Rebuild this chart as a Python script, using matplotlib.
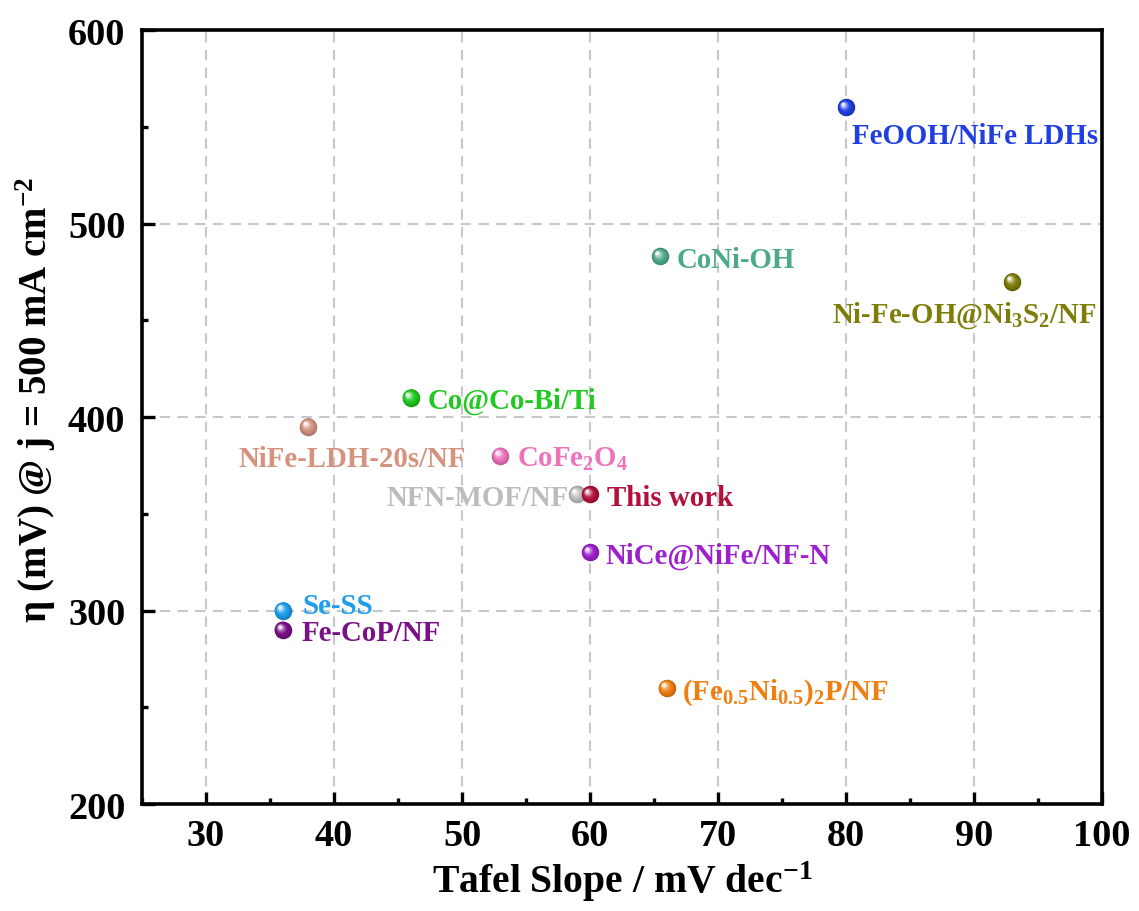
import matplotlib
matplotlib.use('Agg')
import matplotlib.pyplot as plt
import matplotlib.colors as mc
from matplotlib.transforms import offset_copy
import numpy as np

names = ['FeOOH/NiFe LDHs', 'CoNi-OH', 'Ni-Fe-OH@Ni$_3$S$_2$/NF', 'Co@Co-Bi/Ti',
         'NiFe-LDH-20s/NF', 'CoFe$_2$O$_4$', 'NFN-MOF/NF', 'This work',
         'NiCe@NiFe/NF-N', 'Se-SS', 'Fe-CoP/NF', '(Fe$_{0.5}$Ni$_{0.5}$)$_2$P/NF']
tafel = [80, 65.5, 93, 46, 38, 53, 59, 60, 60, 36, 36, 66]
eta = [560, 483, 470, 410, 395, 380, 360, 360, 330, 300, 290, 260]
colors = ['#1f3fe0', '#4caa88', '#7d7d08', '#22c922', '#d4937e', '#ef72bb',
          '#bcbcbc', '#b3103c', '#9c20cc', '#1e9fec', '#7a1086', '#f07f12']
# label anchor positions (data coords) and alignment
label_x = [80.5, 66.8, 89.2, 47.3, 41.4, 54.3, 58.3, 61.3, 61.2, 37.5, 37.5, 67.2]
label_y = [547, 483, 455, 410, 380, 380, 360, 360, 330, 304, 290, 260]
label_ha = ['left', 'left', 'center', 'left', 'center', 'left', 'right', 'left',
            'left', 'left', 'left', 'left']

plt.rcParams['font.family'] = ['Liberation Serif', 'DejaVu Serif']
plt.rcParams['font.weight'] = 'bold'
plt.rcParams['mathtext.fontset'] = 'custom'
plt.rcParams['mathtext.rm'] = 'Liberation Serif:bold'
plt.rcParams['mathtext.bf'] = 'Liberation Serif:bold'
plt.rcParams['mathtext.default'] = 'bf'

fig = plt.figure(figsize=(11.39, 9.12), dpi=100)
ax = fig.add_axes([0.1247, 0.1173, 0.8428, 0.8487])

ax.set_xlim(25, 100)
ax.set_ylim(200, 600)
ax.set_xticks(np.arange(30, 101, 10))
ax.set_xticks(np.arange(25, 101, 5), minor=True)
ax.set_yticks(np.arange(200, 601, 100))
ax.set_yticks(np.arange(200, 601, 50), minor=True)
ax.grid(True, which='major', color='#c8c8c8', linestyle=(0, (5, 3.5)), linewidth=1.5)
ax.set_axisbelow(True)

for s in ax.spines.values():
    s.set_linewidth(2.6)
ax.tick_params(which='major', direction='in', length=9, width=2.4, labelsize=27.5, pad=10)
ax.tick_params(axis='y', which='major', pad=12)
ax.tick_params(which='minor', direction='in', length=4.5, width=2.4)

# shaded "ball" markers
r = 6.3  # radius in points
nlayer = 16
for x, y, c in zip(tafel, eta, colors):
    base = np.array(mc.to_rgb(c))
    dark = base * 0.8
    ax.scatter([x], [y], s=(2 * r) ** 2, color=dark, zorder=3, linewidths=0)
    for k in range(1, nlayer + 1):
        t = k / nlayer
        size = (2 * r * (1 - 0.82 * t)) ** 2
        if t < 0.4:
            col = dark + (base - dark) * (t / 0.4)
        else:
            w = ((t - 0.4) / 0.6) ** 1.6
            col = base + (1 - base) * w * 0.9
        tr = offset_copy(ax.transData, fig=fig, x=-0.38 * r * t, y=0.38 * r * t, units='points')
        ax.scatter([x], [y], s=size, color=np.clip(col, 0, 1), zorder=3,
                   linewidths=0, transform=tr)

for n, lx, ly, ha, c in zip(names, label_x, label_y, label_ha, colors):
    ax.text(lx, ly, n, color=c, fontsize=20.8, fontweight='bold', ha=ha,
            va='center_baseline', zorder=4)

ax.set_xlabel('Tafel Slope / mV dec$^{-1}$', fontsize=28.5, fontweight='bold', labelpad=4)
ax.set_ylabel('η (mV) @ j = 500 mA cm$^{-2}$', fontsize=28, fontweight='bold')
ax.yaxis.set_label_coords(-0.088, 0.523)

fig.savefig('out.png', dpi=100, facecolor='white')
